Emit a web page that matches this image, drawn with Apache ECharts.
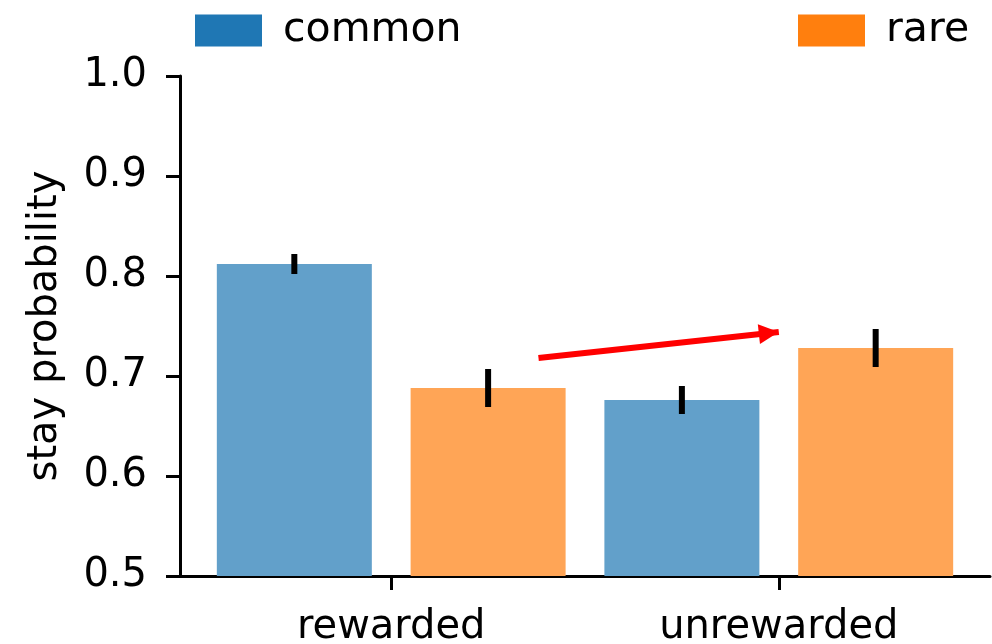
<!DOCTYPE html>
<html>
<head>
<meta charset="utf-8">
<script src="https://cdn.jsdelivr.net/npm/echarts@6/dist/echarts.min.js"></script>
<style>
  html, body { margin: 0; padding: 0; background: #fff; }
  #chart { width: 992px; height: 644px; }
</style>
</head>
<body>
<div id="chart"></div>
<script>
// Stay probability by outcome of previous trial and transition type
const categories = ['rewarded', 'unrewarded'];
const seriesNames = ['common', 'rare'];
const commonMean = [0.812, 0.676];
const rareMean = [0.688, 0.728];
const commonErr = [0.010, 0.014];
const rareErr = [0.019, 0.019];
const yTicks = [0.5, 0.6, 0.7, 0.8, 0.9, 1.0];
// annotation arrow (x in bar-slot units, y in probability)
const arrowFrom = [1.26, 0.718];
const arrowTo = [2.5, 0.744];

const FONT = 'DejaVu Sans';

// bars sit in slots: common at 2i, rare at 2i+1; condition label between them
const slot = (i, k) => 2 * i + k;
const commonData = commonMean.map((v, i) => [slot(i, 0), v]);
const rareData = rareMean.map((v, i) => [slot(i, 1), v]);
const errData = commonMean.map((v, i) => [slot(i, 0), v - commonErr[i], v + commonErr[i]])
  .concat(rareMean.map((v, i) => [slot(i, 1), v - rareErr[i], v + rareErr[i]]));
const labelPos = categories.map((_, i) => 2 * i + 0.5);

const chart = echarts.init(document.getElementById('chart'), null, { renderer: 'canvas' });

const legendBase = {
  orient: 'horizontal',
  top: 10,
  padding: 0,
  itemWidth: 67,
  itemHeight: 32,
  icon: 'rect',
  selectedMode: false,
  textStyle: { fontFamily: FONT, fontSize: 41, color: '#000', padding: [0, 0, 0, 16] }
};

chart.setOption({
  animation: false,
  backgroundColor: '#fff',
  textStyle: { fontFamily: FONT },
  legend: [
    Object.assign({}, legendBase, { left: 195, data: [{ name: seriesNames[0], itemStyle: { color: '#1f77b4' } }] }),
    Object.assign({}, legendBase, { left: 798, data: [{ name: seriesNames[1], itemStyle: { color: '#ff7f0e' } }] })
  ],
  grid: { left: 180, right: 2, top: 76, bottom: 68, outerBoundsMode: 'none', containLabel: false },
  xAxis: {
    type: 'value',
    min: -0.59,
    max: 3.59,
    splitLine: { show: false },
    axisLine: { show: true, onZero: false, lineStyle: { color: '#000', width: 3 } },
    axisTick: { show: true, customValues: labelPos, length: 14, lineStyle: { color: '#000', width: 3 } },
    axisLabel: {
      customValues: labelPos,
      margin: 32,
      fontFamily: FONT,
      fontSize: 40,
      color: '#000',
      formatter: v => categories[Math.round((v - 0.5) / 2)]
    }
  },
  yAxis: {
    type: 'value',
    min: 0.5,
    max: 1.0,
    interval: 0.1,
    name: 'stay probability',
    nameLocation: 'middle',
    nameGap: 114,
    nameTextStyle: { fontFamily: FONT, fontSize: 40, color: '#000' },
    splitLine: { show: false },
    axisLine: { show: true, onZero: false, lineStyle: { color: '#000', width: 3 } },
    axisTick: { show: true, length: 14, lineStyle: { color: '#000', width: 3 } },
    axisLabel: {
      margin: 33,
      fontFamily: FONT,
      fontSize: 40,
      color: '#000',
      customValues: yTicks,
      formatter: v => v.toFixed(1)
    }
  },
  series: [
    {
      name: seriesNames[0],
      type: 'bar',
      data: commonData,
      barWidth: 155,
      barGap: '-100%',
      itemStyle: { color: '#62a0ca' },
      silent: true
    },
    {
      name: seriesNames[1],
      type: 'bar',
      data: rareData,
      barWidth: 155,
      barGap: '-100%',
      itemStyle: { color: '#ffa556' },
      silent: true,
      markLine: {
        silent: true,
        animation: false,
        symbol: ['none', 'triangle'],
        symbolSize: [20, 20],
        symbolOffset: [0, [0, 10]],
        label: { show: false },
        emphasis: { disabled: true },
        lineStyle: { color: '#ff0000', width: 6, type: 'solid' },
        data: [[{ coord: arrowFrom }, { coord: arrowTo }]]
      }
    },
    {
      name: 'error',
      type: 'custom',
      data: errData,
      encode: { x: 0, y: [1, 2] },
      z: 5,
      silent: true,
      renderItem: (params, api) => {
        const hi = api.coord([api.value(0), api.value(2)]);
        const lo = api.coord([api.value(0), api.value(1)]);
        return {
          type: 'line',
          shape: { x1: hi[0], y1: hi[1], x2: lo[0], y2: lo[1] },
          style: { stroke: '#000', lineWidth: 6 }
        };
      }
    }
  ]
});
</script>
</body>
</html>
